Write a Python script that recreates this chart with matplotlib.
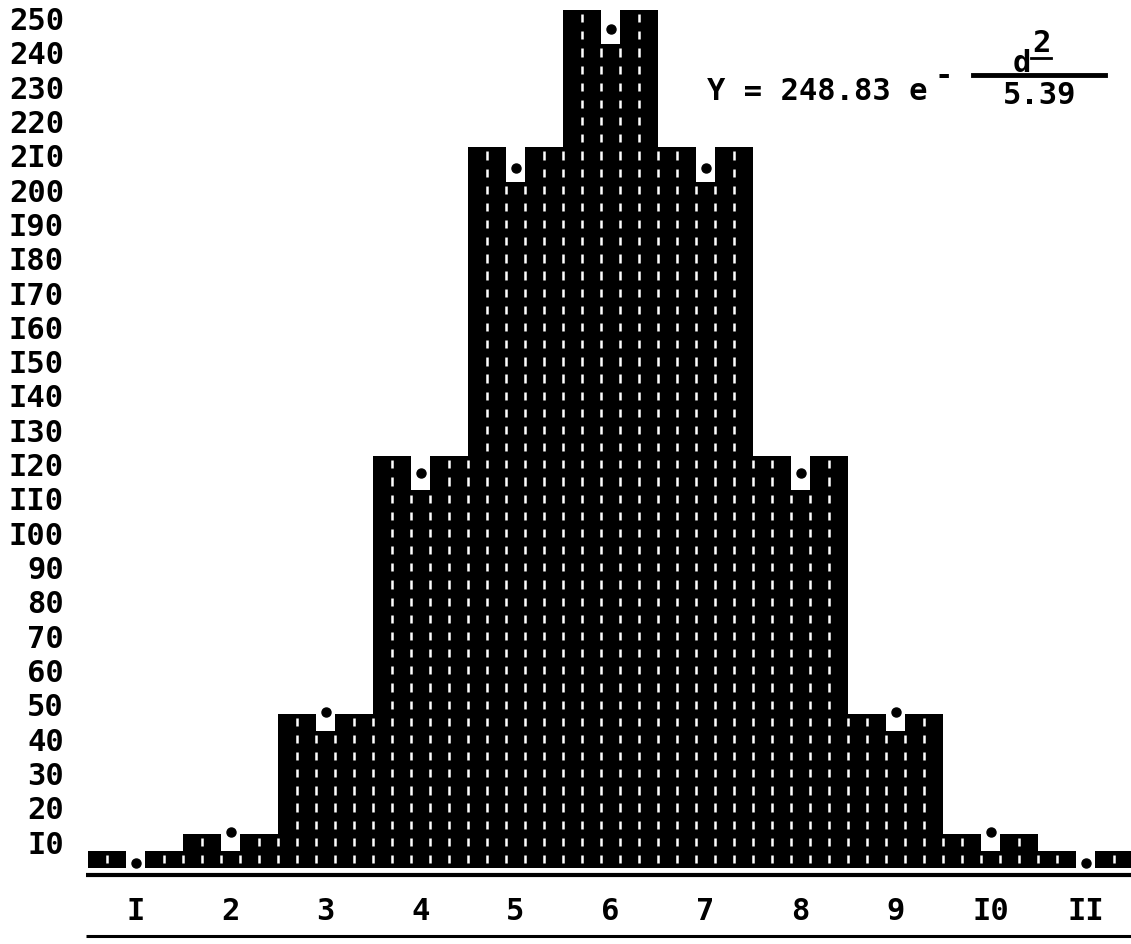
import numpy as np
import matplotlib.pyplot as plt
from matplotlib.transforms import ScaledTranslation

W, H = 1131, 944

# class labels as typed (the typewriter has no "1", a capital I is used)
groups = ['I', '2', '3', '4', '5', '6', '7', '8', '9', 'I0', 'II']
observed = [5, 10, 45, 120, 210, 250, 210, 120, 45, 10, 5]
centre = [0, 5, 40, 110, 200, 240, 200, 110, 40, 5, 0]
fitted = [1.5, 10.5, 45.5, 115, 204, 244.5, 204, 115, 45.5, 10.5, 1.5]
y_values = list(range(10, 260, 10))

# each class is five typed columns: two observed, the centre one, two observed
cols = []
for o, c in zip(observed, centre):
    cols += [o, o, c, o, o]
cols = np.array(cols)
ncol = len(cols)

font = dict(family='DejaVu Sans Mono', weight='bold', size=22, color='black')


def px(x, y):
    return x / W, 1 - y / H


fig = plt.figure(figsize=(W / 100, H / 100), dpi=100)
ax = fig.add_axes([88 / W, 76 / H, 1045 / W, 868 / H])
ax.set_xlim(0, ncol)
ax.set_ylim(0, 252.9)
ax.axis('off')

ax.bar(np.arange(ncol), cols, width=1.0, align='edge', color='black', linewidth=0)

# white gaps left between neighbouring typed characters, one per half line
seg_x, seg_lo, seg_hi = [], [], []
for j in range(1, ncol):
    h = min(cols[j - 1], cols[j])
    for k in range(int(h // 5)):
        seg_x.append(j)
        seg_lo.append(5 * k + 1.4)
        seg_hi.append(5 * k + 3.8)
ax.vlines(seg_x, seg_lo, seg_hi, colors='white', linewidth=1.8)

centres = np.arange(len(groups)) * 5 + 2.5
ax.plot(centres, fitted, 'o', color='black', markersize=6.5, clip_on=False)

# y scale, labels sit a little under their level
shift = ScaledTranslation(0, -8.5 / 100, fig.dpi_scale_trans)
for v in y_values:
    ax.text(-24 / 1045, v, str(v).replace('1', 'I'), ha='right', va='center_baseline',
            transform=ax.get_yaxis_transform() + shift, **font)

for c, g in zip(centres, groups):
    ax.text(c, -40 / 868, g, ha='center', va='center_baseline',
            transform=ax.get_xaxis_transform(), **font)

# base line and the closing rule under the class numbers
ax.plot([-0.002, 1], [-7 / 868] * 2, color='black', lw=3, transform=ax.transAxes,
        clip_on=False, solid_capstyle='butt')
ax.plot([-0.002, 1], [-68 / 868] * 2, color='black', lw=2.2, transform=ax.transAxes,
        clip_on=False, solid_capstyle='butt')

# fitted curve
fig.text(*px(707, 89), 'Y = 248.83 e', ha='left', va='center_baseline', **font)
fig.text(*px(944, 73), '-', ha='center', va='center_baseline', **font)
fig.text(*px(1022, 60), 'd', ha='center', va='center_baseline', **font)
fig.text(*px(1041, 40), '2', ha='center', va='center_baseline', **font)
fig.lines.append(plt.Line2D([1031 / W, 1051 / W], [1 - 58 / H] * 2, color='black', lw=2,
                            transform=fig.transFigure))
fig.lines.append(plt.Line2D([973 / W, 1105 / W], [1 - 75 / H] * 2, color='black', lw=3.5,
                            transform=fig.transFigure))
fig.text(*px(1040, 93), '5.39', ha='center', va='center_baseline', **font)

fig.savefig('out.png', dpi=100, facecolor='white')
